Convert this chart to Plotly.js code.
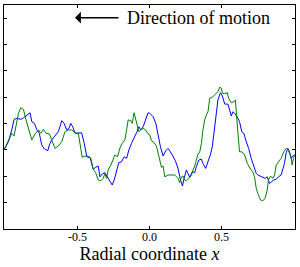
<!DOCTYPE html>
<html>
<head>
<meta charset="utf-8">
<script src="https://cdn.plot.ly/plotly-3.0.1.min.js"></script>
<style>html,body{margin:0;padding:0;background:#fff;}#chart{width:300px;height:267px;}</style>
</head>
<body>
<div id="chart"></div>
<script>
// Radial coordinate values and profile values (arbitrary units)
const xBlue = [-1.01,-0.979,-0.956,-0.940,-0.921,-0.893,-0.875,-0.852,-0.829,-0.817,-0.799,-0.783,-0.765,-0.748,-0.730,-0.706,-0.695,-0.679,-0.656,-0.633,-0.609,-0.593,-0.575,-0.559,-0.547,-0.533,-0.517,-0.494,-0.471,-0.453,-0.436,-0.413,-0.391,-0.374,-0.356,-0.344,-0.328,-0.310,-0.291,-0.275,-0.259,-0.245,-0.229,-0.213,-0.194,-0.176,-0.159,-0.143,-0.125,-0.107,-0.090,-0.074,-0.060,-0.044,-0.028,-0.010,0.002,0.025,0.044,0.060,0.076,0.094,0.113,0.129,0.145,0.163,0.182,0.198,0.215,0.229,0.240,0.256,0.267,0.279,0.298,0.314,0.325,0.343,0.360,0.371,0.390,0.406,0.422,0.436,0.452,0.464,0.475,0.492,0.506,0.522,0.544,0.556,0.568,0.579,0.591,0.609,0.625,0.641,0.655,0.672,0.688,0.706,0.724,0.741,0.752,0.771,0.787,0.803,0.817,0.826,0.833,0.849,0.863,0.880,0.895,0.914,0.925,0.937,0.949,0.960,0.972,0.983,0.994,1.01];
const yBlue = [3.00,3.31,3.76,4.16,4.20,4.16,4.22,4.33,4.41,4.07,4.01,3.78,3.63,3.19,3.04,2.97,3.19,3.38,3.53,3.69,4.11,4.01,3.76,3.82,4.01,3.88,3.63,3.65,3.65,3.25,2.77,2.72,2.27,2.34,2.39,1.98,2.09,2.14,1.98,1.80,1.67,1.86,2.24,2.52,2.55,2.74,2.68,3.00,3.25,3.44,3.65,3.88,3.76,3.88,4.14,4.41,4.39,4.26,4.01,3.50,3.12,2.77,2.97,3.06,2.93,2.77,2.55,2.30,1.86,1.63,1.92,2.24,2.11,1.96,2.17,2.14,2.36,2.62,2.65,2.49,2.30,2.55,2.81,3.12,3.76,4.39,4.90,5.17,5.05,4.74,4.74,4.52,4.29,4.45,4.39,4.26,4.07,3.69,3.63,3.31,3.06,2.68,2.36,2.11,2.05,2.01,1.96,1.92,1.98,1.86,1.73,1.80,1.86,1.89,1.98,2.05,2.27,2.49,2.90,3.06,2.93,2.68,2.77,2.81];

const xGreen = [-1.01,-0.979,-0.956,-0.940,-0.926,-0.910,-0.893,-0.875,-0.857,-0.841,-0.817,-0.794,-0.771,-0.755,-0.737,-0.718,-0.695,-0.679,-0.656,-0.633,-0.609,-0.587,-0.564,-0.540,-0.517,-0.494,-0.483,-0.467,-0.448,-0.425,-0.407,-0.391,-0.374,-0.356,-0.337,-0.321,-0.310,-0.298,-0.287,-0.268,-0.252,-0.240,-0.222,-0.206,-0.190,-0.171,-0.159,-0.148,-0.130,-0.120,-0.107,-0.090,-0.074,-0.060,-0.044,-0.028,-0.010,0.002,0.014,0.030,0.048,0.066,0.083,0.094,0.106,0.129,0.152,0.175,0.198,0.210,0.222,0.233,0.244,0.256,0.274,0.291,0.302,0.314,0.325,0.337,0.348,0.360,0.371,0.383,0.395,0.406,0.418,0.436,0.452,0.464,0.475,0.487,0.499,0.506,0.522,0.540,0.549,0.568,0.586,0.596,0.602,0.614,0.625,0.641,0.660,0.679,0.702,0.717,0.729,0.741,0.752,0.771,0.787,0.803,0.817,0.826,0.840,0.856,0.868,0.880,0.895,0.914,0.932,0.949,0.960,0.972,0.983,0.990,0.999,1.01];
const yGreen = [3.00,3.38,3.63,3.53,4.01,4.39,4.60,4.54,4.14,3.82,3.38,3.61,3.76,3.63,3.78,3.63,3.61,3.38,3.06,3.15,3.31,3.69,3.76,3.76,3.65,3.63,3.19,2.72,2.77,2.72,2.68,2.27,2.14,1.86,1.83,1.92,2.11,1.92,2.24,2.43,2.62,2.81,2.74,3.06,3.25,3.38,3.76,4.14,4.11,4.01,4.41,4.07,3.69,3.76,3.82,3.76,3.61,3.57,3.35,3.28,3.15,2.74,2.34,2.39,1.98,2.05,2.05,2.05,1.92,1.76,1.98,2.01,1.86,1.83,1.92,2.05,2.24,2.39,2.62,2.85,2.90,3.25,3.76,4.14,4.33,4.45,4.96,5.00,5.09,5.17,5.21,5.38,5.34,5.15,5.14,5.17,4.96,4.79,4.83,4.90,4.39,3.63,2.93,2.93,2.81,2.49,2.27,2.17,1.98,1.54,1.35,1.10,1.07,1.17,1.48,1.86,2.01,1.92,2.05,2.43,2.55,2.68,2.93,3.06,3.02,2.90,2.74,2.43,2.68,2.81];

const xTickVals = [-0.5, 0.0, 0.5];
const xTickText = ["-0.5", "0.0", "0.5"];
const yTickVals = [1, 2, 3, 4, 5, 6, 7, 8];

const serif = "Liberation Serif, Times New Roman, serif";

const traces = [
  {x: xBlue, y: yBlue, type: "scatter", mode: "lines", line: {color: "#0000ff", width: 1}, hoverinfo: "skip"},
  {x: xGreen, y: yGreen, type: "scatter", mode: "lines", line: {color: "#008000", width: 1}, hoverinfo: "skip"}
];

const layout = {
  width: 300, height: 267,
  margin: {l: 4, r: 5, t: 5, b: 38, pad: 0},
  paper_bgcolor: "#fff", plot_bgcolor: "#fff",
  showlegend: false,
  font: {family: serif, color: "#000"},
  xaxis: {
    range: [-1.01, 1.01], showgrid: false, zeroline: false,
    showline: true, linecolor: "#000", linewidth: 1.3, mirror: "ticks",
    ticks: "inside", ticklen: 3, tickwidth: 1, tickcolor: "#000",
    tickvals: xTickVals, ticktext: xTickText, ticklabelstandoff: -4,
    tickfont: {family: serif, size: 12, color: "#000"},
    title: {text: "Radial coordinate <i>x</i>", font: {family: serif, size: 18, color: "#000"}, standoff: 3}
  },
  yaxis: {
    range: [0, 8.5], showgrid: false, zeroline: false,
    showline: true, linecolor: "#000", linewidth: 1.3, mirror: "ticks",
    ticks: "inside", ticklen: 3, tickwidth: 1, tickcolor: "#000",
    tickvals: yTickVals, showticklabels: false
  },
  annotations: [
    {x: -0.517, y: 8.02, xref: "x", yref: "y", text: "", showarrow: true,
     ax: 45, ay: 0, axref: "pixel", ayref: "pixel",
     arrowhead: 1, arrowsize: 1.3, arrowwidth: 1.5, arrowcolor: "#000"},
    {x: -0.171, y: 8.02, xref: "x", yref: "y", text: "Direction of motion", showarrow: false,
     xanchor: "left", yanchor: "middle", font: {family: serif, size: 18, color: "#000"}}
  ]
};

Plotly.newPlot("chart", traces, layout, {staticPlot: true, displayModeBar: false});
</script>
</body>
</html>
